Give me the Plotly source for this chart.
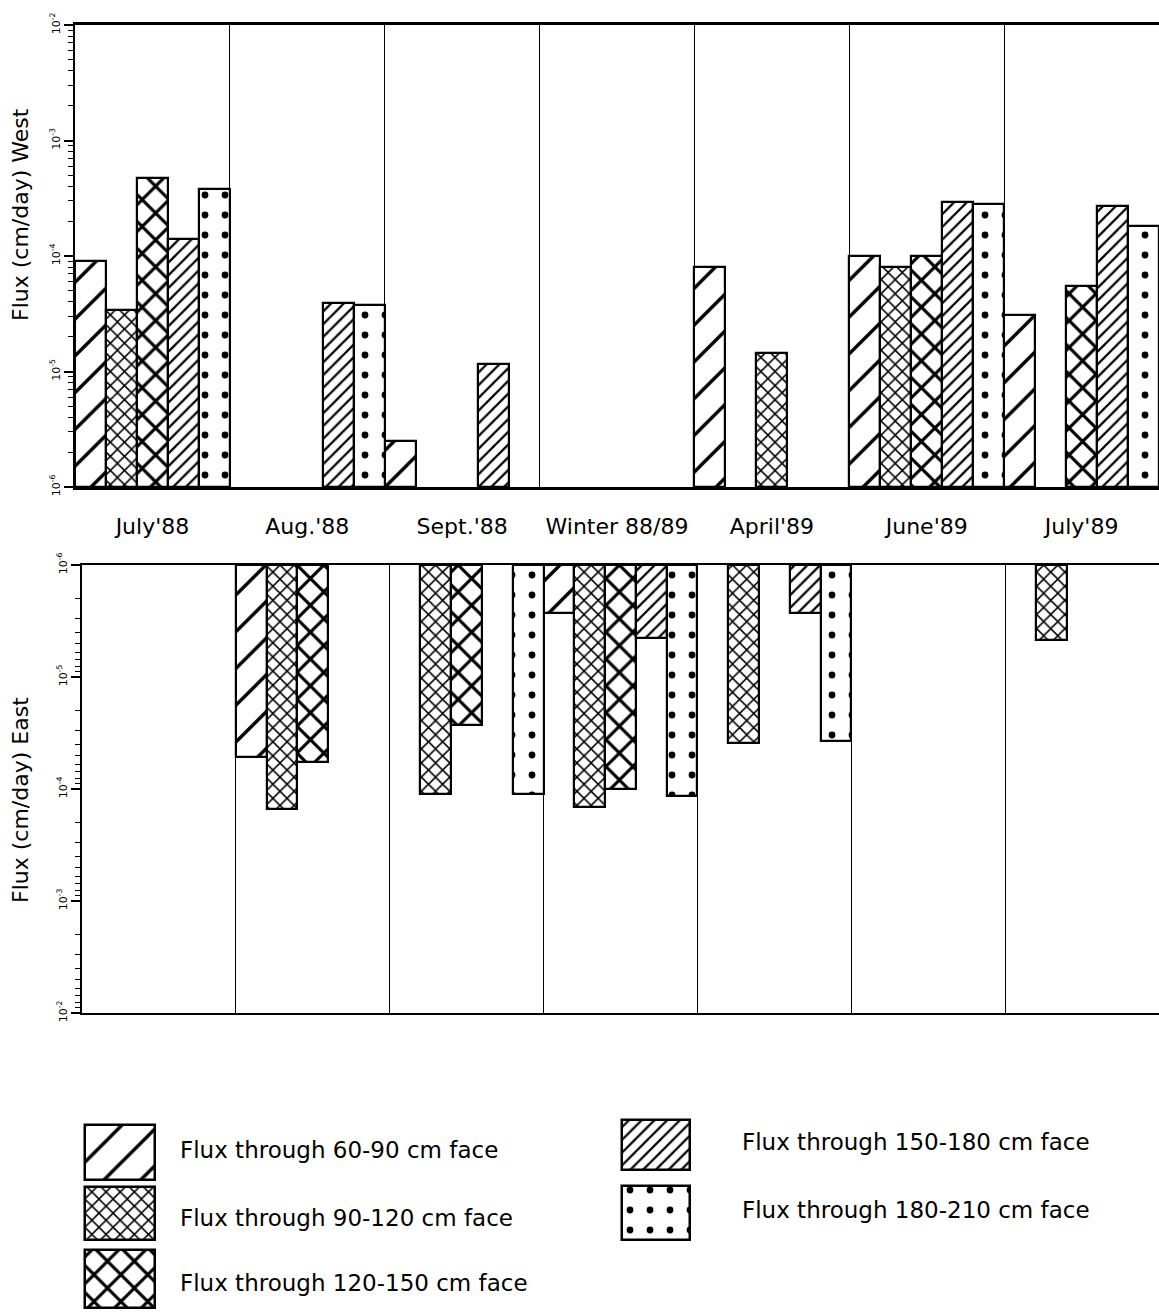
import plotly.graph_objects as go

# ---------------- data ----------------
categories = ["July'88", "Aug.'88", "Sept.'88", "Winter 88/89", "April'89", "June'89", "July'89"]

series_names = [
    "Flux through 60-90 cm face",
    "Flux through 90-120 cm face",
    "Flux through 120-150 cm face",
    "Flux through 150-180 cm face",
    "Flux through 180-210 cm face",
]

# West flux (cm/day), top panel
west_60_90 = [9.0e-5, None, 1.5e-6, None, 8.0e-5, 1.0e-4, 3.0e-5]
west_90_120 = [3.3e-5, None, None, None, None, 8.0e-5, None]
west_120_150 = [4.7e-4, None, None, None, 1.35e-5, 1.0e-4, 5.4e-5]
west_150_180 = [1.4e-4, 3.8e-5, 1.05e-5, None, None, 2.9e-4, 2.7e-4]
west_180_210 = [3.8e-4, 3.7e-5, None, None, None, 2.8e-4, 1.8e-4]

# East flux (cm/day), bottom panel
east_60_90 = [None, 5.1e-5, None, 1.7e-6, None, None, None]
east_90_120 = [None, 1.5e-4, 1.1e-4, 1.45e-4, 3.8e-5, None, 3.7e-6]
east_120_150 = [None, 5.6e-5, 2.6e-5, 1.0e-4, None, None, None]
east_150_180 = [None, None, None, 3.5e-6, 1.7e-6, None, None]
east_180_210 = [None, None, 1.1e-4, 1.15e-4, 3.6e-5, None, None]

west_ticktext = ["10<sup>-6</sup>", "10<sup>-5</sup>", "10<sup>-4</sup>", "10<sup>-3</sup>", "10<sup>-2</sup>"]
east_ticktext = ["10<sup>-6</sup>", "10<sup>-5</sup>", "10<sup>-4</sup>", "10<sup>-3</sup>", "10<sup>-2</sup>"]
tick_values = [1e-6, 1e-5, 1e-4, 1e-3, 1e-2]
BASE = 1e-6

west = [west_60_90, west_90_120, west_120_150, west_150_180, west_180_210]
east = [east_60_90, east_90_120, east_120_150, east_150_180, east_180_210]

# ---------------- styling ----------------
W, H = 1159, 1316
FONT = "DejaVu Sans"


def fx(px):
    return px / W


def fy(py):
    return 1 - py / H


patterns = [
    dict(shape="/", size=26, solidity=0.13),
    dict(shape="x", size=10, solidity=0.28),
    dict(shape="x", size=19, solidity=0.3),
    dict(shape="/", size=9, solidity=0.25),
    dict(shape=".", size=20, solidity=0.09),
]
for p in patterns:
    p.update(fgcolor="black", bgcolor="white", fillmode="replace")

# in the scan, the April'89 West bar in the 120-150 slot is drawn with the fine crosshatch
west_pattern_overrides = {2: {4: (10, 0.28)}}

fig = go.Figure()

for i in range(5):
    pat_w = dict(patterns[i])
    if i in west_pattern_overrides:
        sizes = [pat_w["size"]] * len(categories)
        sols = [pat_w["solidity"]] * len(categories)
        for k, (s, so) in west_pattern_overrides[i].items():
            sizes[k] = s
            sols[k] = so
        pat_w["size"] = sizes
        pat_w["solidity"] = sols
    fig.add_trace(go.Bar(x=categories, y=west[i], base=BASE, name=series_names[i],
                         marker=dict(color="white", line=dict(color="black", width=2.2), pattern=pat_w),
                         xaxis="x", yaxis="y", showlegend=False))
    fig.add_trace(go.Bar(x=categories, y=east[i], base=BASE, name=series_names[i],
                         marker=dict(color="white", line=dict(color="black", width=2.2), pattern=patterns[i]),
                         xaxis="x2", yaxis="y2", showlegend=False))

# custom legend (large patterned keys)
legend_keys = [  # (left, top, width, height) in px, label left x, label y
    (85, 1125, 70, 55, 178, 1150),
    (85, 1187, 70, 53, 178, 1218),
    (85, 1250, 70, 58, 178, 1283),
    (622, 1120, 68, 50, 740, 1142),
    (622, 1186, 68, 54, 740, 1210),
]
for i, (lx, ty, w, h, tx, tyy) in enumerate(legend_keys):
    fig.add_trace(go.Bar(x=[lx], y=[h], base=[ty], width=[w], offset=[0],
                         marker=dict(color="white", line=dict(color="black", width=2.5),
                                     pattern=patterns[i]),
                         xaxis="x3", yaxis="y3", showlegend=False, hoverinfo="skip"))
    fig.add_annotation(x=fx(tx), y=fy(tyy), xref="paper", yref="paper", text=series_names[i],
                       showarrow=False, xanchor="left", yanchor="middle",
                       font=dict(family=FONT, size=23, color="black"))

common_y = dict(type="log", showline=True, linecolor="black", linewidth=2,
                ticks="outside", ticklen=9, tickwidth=1.6, tickcolor="black",
                tickvals=tick_values, tickangle=-90,
                tickfont=dict(family=FONT, size=11, color="black"),
                minor=dict(ticks="outside", ticklen=5, tickwidth=1.3, tickcolor="black",
                           dtick="D1", showgrid=False),
                showgrid=False, zeroline=False)
common_x = dict(type="category", showline=True, linecolor="black", mirror=True,
                showgrid=True, gridcolor="black", gridwidth=1.3, tickson="boundaries",
                ticks="", zeroline=False)

fig.update_layout(
    width=W, height=H, margin=dict(l=0, r=0, t=0, b=0, autoexpand=False),
    paper_bgcolor="white", plot_bgcolor="white",
    barmode="group", bargap=0, bargroupgap=0,
    xaxis=dict(**common_x, domain=[fx(75), 1], anchor="y", linewidth=2.8,
               tickfont=dict(family=FONT, size=22, color="black"), ticklabelstandoff=18),
    yaxis=dict(**common_y, domain=[fy(487), fy(25)], anchor="x", range=[-6, -2],
               ticktext=west_ticktext),
    xaxis2=dict(**common_x, domain=[fx(82), 1], anchor="y2", linewidth=2.4,
                showticklabels=False),
    yaxis2=dict(**common_y, domain=[fy(1013), fy(565)], anchor="x2", range=[-2, -6],
                ticktext=east_ticktext),
    xaxis3=dict(domain=[0, 1], anchor="y3", range=[0, W], visible=False, fixedrange=True),
    yaxis3=dict(domain=[0, fy(1100)], anchor="x3", range=[H, 1100], visible=False, fixedrange=True),
    font=dict(family=FONT, color="black"),
)

fig.add_annotation(x=fx(20), y=fy(215), xref="paper", yref="paper", text="Flux (cm/day) West",
                   textangle=-90, showarrow=False, xanchor="center", yanchor="middle",
                   font=dict(family=FONT, size=22, color="black"))
fig.add_annotation(x=fx(20), y=fy(800), xref="paper", yref="paper", text="Flux (cm/day) East",
                   textangle=-90, showarrow=False, xanchor="center", yanchor="middle",
                   font=dict(family=FONT, size=22, color="black"))

fig.write_html("out.html")
